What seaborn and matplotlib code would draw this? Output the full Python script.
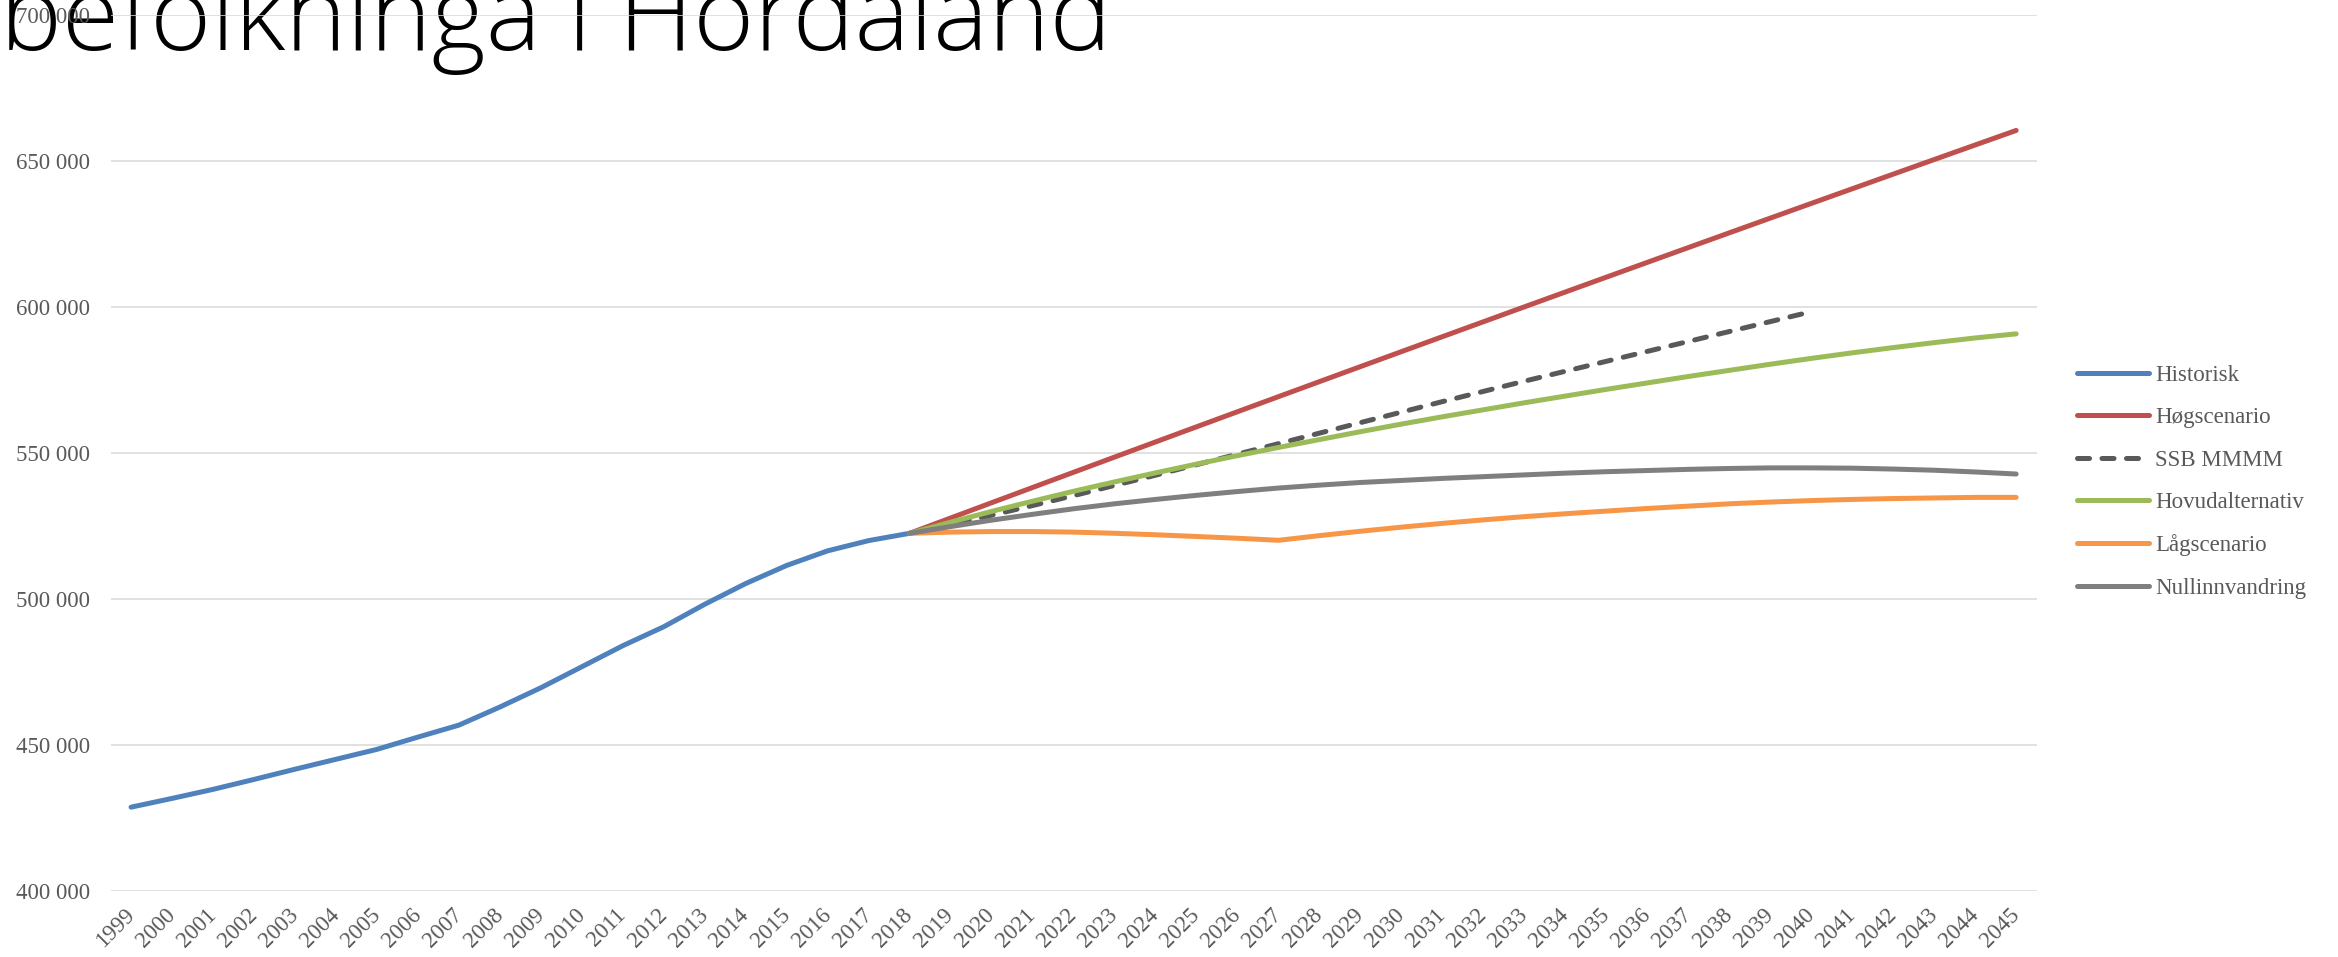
import matplotlib
matplotlib.use("Agg")
import matplotlib.pyplot as plt
from matplotlib.ticker import FuncFormatter
import pandas as pd
import seaborn as sns

# data (lesne av figuren)
aar_hist = list(range(1999, 2019))
aar_fram = list(range(2018, 2046))
aar_ssb = list(range(2018, 2041))

historisk = [428700, 431700, 434800, 438200, 441700, 445100, 448500, 452700, 456800, 463000,
             469600, 476800, 484000, 490500, 498200, 505300, 511500, 516500, 520000, 522500]
hogscenario = [522500, 527740, 532970, 538190, 543400, 548600, 553790, 558970, 564140, 569300,
               574450, 579590, 584720, 589840, 594950, 600050, 605140, 610220, 615290, 620350,
               625400, 630440, 635470, 640490, 645500, 650500, 655490, 660470]
ssb_mmmm = [522500, 525500, 528700, 532000, 535400, 538900, 542400, 546000, 549600, 553200,
            556800, 560400, 564000, 567600, 571100, 574600, 578000, 581400, 584800, 588200,
            591600, 595000, 598400]
hovudalternativ = [522500, 526300, 530000, 533500, 536900, 540100, 543200, 546200, 549100, 551900,
                   554600, 557300, 559900, 562400, 564800, 567200, 569500, 571800, 574000, 576200,
                   578300, 580400, 582400, 584300, 586100, 587800, 589400, 590800]
lagscenario = [522500, 522900, 523100, 523100, 522900, 522500, 522000, 521400, 520800, 520100,
               521700, 523200, 524600, 525900, 527100, 528200, 529200, 530100, 531000, 531800,
               532600, 533200, 533700, 534100, 534400, 534600, 534800, 534800]
nullinnvandring = [522500, 524800, 527000, 529000, 530900, 532600, 534100, 535500, 536800, 538000,
                   539000, 539900, 540600, 541300, 541900, 542500, 543100, 543600, 544000, 544400,
                   544700, 544900, 544900, 544800, 544500, 544100, 543500, 542800]

serier = [
    ("Historisk", aar_hist, historisk, "#4F81BD"),
    ("Høgscenario", aar_fram, hogscenario, "#C0504D"),
    ("SSB MMMM", aar_ssb, ssb_mmmm, "#595959"),
    ("Hovudalternativ", aar_fram, hovudalternativ, "#9BBB59"),
    ("Lågscenario", aar_fram, lagscenario, "#F79646"),
    ("Nullinnvandring", aar_fram, nullinnvandring, "#7F7F7F"),
]

sns.set_style("white")
plt.rcParams["font.family"] = ["Liberation Serif", "DejaVu Serif"]

fig = plt.figure(figsize=(23.38, 9.57), dpi=100)
ax = fig.add_axes([0.0473, 0.0690, 0.8238, 0.9153])
ax.set_zorder(1)
ax.patch.set_alpha(0)

for namn, x, y, farge in serier:
    df = pd.DataFrame({"aar": x, "folketal": y})
    sns.lineplot(data=df, x="aar", y="folketal", ax=ax, color=farge, lw=3.6,
                 label=namn, solid_capstyle="round", dash_capstyle="round")
    if namn == "SSB MMMM":
        ax.lines[-1].set_dashes([2.4, 2.5])

ax.set_xlim(1998.5, 2045.5)
ax.set_ylim(400000, 700000)
ax.set_xticks(list(range(1999, 2046)))
ax.set_yticks([400000, 450000, 500000, 550000, 600000, 650000, 700000])
ax.yaxis.set_major_formatter(FuncFormatter(lambda v, p: f"{v:,.0f}".replace(",", " ")))
ax.set_xlabel("")
ax.set_ylabel("")
ax.grid(axis="y", color="#D9D9D9", lw=1.1)
ax.grid(axis="x", visible=False)
for s in ax.spines.values():
    s.set_visible(False)
ax.tick_params(axis="both", length=0, labelsize=16.5, labelcolor="#595959")
ax.tick_params(axis="y", pad=15)
ax.tick_params(axis="x", pad=15)
for lab in ax.get_xticklabels():
    lab.set_rotation(45)
    lab.set_ha("right")
    lab.set_va("center")
    lab.set_rotation_mode("anchor")

leg = ax.legend(loc="center left", bbox_to_anchor=(0.8845, 0.4966), bbox_transform=fig.transFigure,
                frameon=False, fontsize=16.5, handlelength=3.15, handletextpad=0.26,
                labelspacing=0.93, borderaxespad=0)
for t in leg.get_texts():
    t.set_color("#595959")

# tittelen er kutta i toppen, som i originalen
fig.text(0.0, 1 - 50 / 957, "befolkninga i Hordaland", ha="left", va="baseline",
         fontsize=75, family="Open Sans", fontweight="light", color="black", zorder=0)

fig.savefig("out.png", dpi=100)
